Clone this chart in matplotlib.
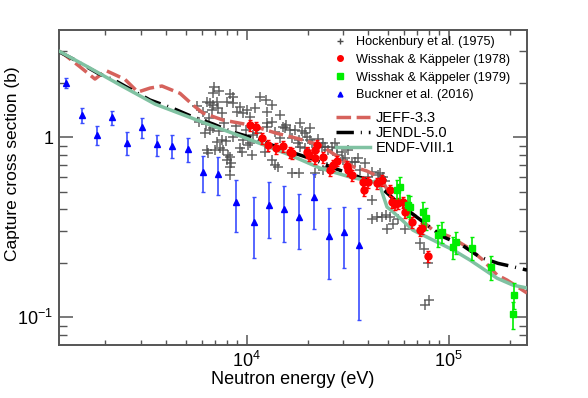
import matplotlib
matplotlib.use("Agg")
import matplotlib.pyplot as plt
from matplotlib.ticker import LogLocator, NullFormatter
from matplotlib.lines import Line2D

plt.rcParams['font.family'] = ['Liberation Sans', 'DejaVu Sans']
plt.rcParams['mathtext.fontset'] = 'custom'
plt.rcParams['mathtext.rm'] = 'Liberation Sans'
plt.rcParams['mathtext.it'] = 'Liberation Sans:italic'
plt.rcParams['xtick.direction'] = 'in'
plt.rcParams['ytick.direction'] = 'in'

# Hockenbury et al. (1975)
hock_E = [6890, 7290, 6810, 6360, 6580, 6810, 7130, 6730, 7210, 7550, 7990, 8270, 8550, 8550,
          8950, 9260, 9590, 10030, 10380, 6220, 6580, 7550, 7130, 7380, 6970, 7630, 8080, 8270,
          7990, 8270, 6360, 6430, 9260, 9590, 10150, 11250, 6510, 6290, 6810, 7900, 8550, 8360,
          10700, 10380, 9900, 5670, 5800, 6080, 7720, 8850, 7290,
          10990, 11640, 12460, 13340, 12610, 14620, 15650, 17350, 18360, 19440, 20580, 12600,
          13340, 12610, 13810, 15480, 14620, 16760, 18150, 18800, 17950, 18360, 19440, 23600,
          25270, 28000, 29640, 29980, 13340, 13810, 14290, 16760, 18150, 21790, 23870, 25000,
          15120, 16380, 19880, 20580, 22500, 23870, 26400, 28000, 30680, 34380, 21060, 24420,
          33210, 36400, 39850, 45720, 47300, 41800, 46800, 44200, 51250, 56100, 41800, 48400,
          49000, 49600, 52900, 60800, 72140, 75500, 79000, 76380, 80000, 44700, 46800, 27370,
          31730, 35570, 38530, 41800, 8270, 10600, 12320, 9460]
hock_xs = [1.90, 1.81, 1.76, 1.57, 1.55, 1.51, 1.57, 1.42, 1.46, 1.37, 1.57, 1.74, 1.67, 1.55,
           1.38, 1.47, 1.37, 1.42, 1.30, 1.06, 1.10, 0.97, 0.94, 0.87, 0.85, 0.85, 0.80, 0.78,
           0.75, 0.68, 0.85, 0.82, 0.87, 0.97, 0.91, 1.06, 1.28, 1.19, 1.13, 0.95, 1.00, 0.72,
           1.03, 0.93, 1.10, 1.49, 1.22, 1.38, 1.20, 1.16, 1.08,
           1.46, 1.67, 1.61, 1.51, 1.38, 1.33, 1.17, 1.10, 1.20, 1.06, 1.13, 1.20,
           1.22, 1.14, 1.07, 1.13, 0.99, 0.99, 0.97, 1.08, 0.93, 0.88, 0.87, 0.88,
           0.85, 0.80, 0.83, 0.75, 0.75, 0.70, 0.68, 0.63, 0.63, 0.63, 0.66, 0.68,
           1.14, 1.10, 1.00, 0.97, 0.98, 0.93, 0.88, 0.87, 0.77, 0.73, 0.93, 0.88,
           0.73, 0.66, 0.60, 0.63, 0.60, 0.45, 0.36, 0.36, 0.36, 0.35, 0.35, 0.57,
           0.37, 0.31, 0.33, 0.31, 0.26, 0.24, 0.20, 0.117, 0.125, 0.62, 0.58, 0.93,
           0.85, 0.77, 0.72, 0.64, 0.62, 0.80, 0.83, 0.83]

# Wisshak & Kaeppeler (1978)
w78_E = [10380, 11120, 11910, 12750, 13960, 15130, 16380, 16760, 19890, 20350, 21790, 22280,
         21790, 23870, 25850, 26740, 27990, 31370, 31730, 33210, 37640, 39850, 38080, 44160,
         46770, 51250, 52420, 54250, 56110, 59400, 60800, 65800, 72140, 73800, 79000]
w78_xs = [1.17, 1.14, 0.991, 0.906, 0.872, 0.895, 0.829, 0.818, 0.829, 0.797, 0.850, 0.906,
          0.767, 0.777, 0.658, 0.702, 0.739, 0.693, 0.658, 0.617, 0.565, 0.565, 0.510, 0.557,
          0.579, 0.510, 0.437, 0.426, 0.432, 0.437, 0.385, 0.338, 0.305, 0.313, 0.219]
w78_err = [0.08, 0.08, 0.07, 0.065, 0.06, 0.065, 0.06, 0.06, 0.06, 0.055, 0.06, 0.065,
           0.055, 0.055, 0.045, 0.05, 0.05, 0.05, 0.045, 0.045, 0.04, 0.04, 0.035, 0.04,
           0.04, 0.035, 0.03, 0.03, 0.03, 0.03, 0.027, 0.024, 0.022, 0.022, 0.016]

# Wisshak & Kaeppeler (1979)
w79_E = [55470, 57430, 62890, 64370, 74620, 77200, 88510, 92650, 105000, 108670, 130430,
         161950, 210500, 208100]
w79_xs = [0.510, 0.530, 0.420, 0.410, 0.385, 0.356, 0.287, 0.298, 0.246, 0.262, 0.243,
          0.190, 0.133, 0.104]
w79_err = [0.07, 0.075, 0.06, 0.06, 0.055, 0.05, 0.04, 0.04, 0.035, 0.037, 0.035,
           0.028, 0.022, 0.018]

# Buckner et al. (2016)
buck_E = [1275, 1525, 1809, 2146, 2545, 3032, 3596, 4282, 5104, 6056, 7185, 8851, 10870,
          12890, 15300, 18150, 21540, 25550, 30320, 35960]
buck_xs = [2.00, 1.33, 1.03, 1.29, 0.933, 1.14, 0.914, 0.898, 0.861, 0.641, 0.629, 0.437,
           0.339, 0.421, 0.400, 0.361, 0.469, 0.283, 0.298, 0.252]
buck_err = [0.13, 0.13, 0.126, 0.118, 0.138, 0.147, 0.123, 0.127, 0.13, 0.142, 0.15, 0.14,
            0.125, 0.145, 0.137, 0.121, 0.16, 0.12, 0.11, 0.155]

# evaluated libraries
jeff_E = [1178, 1260, 1495, 1774, 2011, 2497, 2892, 3321, 3807, 4675, 5422, 6077, 7630,
          10383, 14125, 17750, 23066, 29980, 33590, 39400, 44160, 47300, 53000, 62170,
          74600, 83620, 101500, 123200, 147900, 173400, 194400, 244100]
jeff_xs = [3.01, 2.866, 2.467, 2.108, 2.35, 2.10, 1.785, 1.878, 1.928, 1.756, 1.512, 1.364,
           1.248, 1.170, 1.052, 0.987, 0.906, 0.748, 0.687, 0.650, 0.610, 0.565, 0.448, 0.395,
           0.340, 0.305, 0.2805, 0.246, 0.208, 0.172, 0.161, 0.1365]

jendl_E = [1178, 1413, 1836, 2229, 2800, 3321, 4316, 5361, 6810, 8457, 10745, 13340, 17345,
           21790, 25850, 30675, 37640, 44160, 54240, 60800, 76380, 93700, 116350, 142860,
           175400, 201100, 244100]
jendl_xs = [2.99, 2.688, 2.268, 2.068, 1.792, 1.612, 1.449, 1.305, 1.186, 1.074, 0.991,
            0.906, 0.815, 0.748, 0.687, 0.641, 0.592, 0.550, 0.448, 0.403, 0.333, 0.2805,
            0.252, 0.216, 0.1995, 0.1928, 0.183]

endf_E = [1178, 1639, 2414, 3515, 6215, 9920, 16384, 23066, 32475, 42200, 44670, 49500,
          52400, 66600, 87500, 105000, 127500, 173400, 208000, 244100]
endf_xs = [3.01, 2.458, 1.928, 1.531, 1.20, 0.991, 0.797, 0.675, 0.602, 0.565, 0.579, 0.41,
           0.39, 0.305, 0.262, 0.237, 0.208, 0.165, 0.151, 0.1455]

fig = plt.figure(figsize=(5.88, 3.98), dpi=100)
ax = fig.add_axes([0.1003, 0.1332, 0.7959, 0.7915])

ax.plot(hock_E, hock_xs, '+', color='#4a4a4a', ms=6.5, mew=1.1, alpha=0.85, zorder=2)

l_jeff, = ax.plot(jeff_E, jeff_xs, color='#d6625c', lw=2.5, dashes=(4.2, 1.6), zorder=3)
l_jendl, = ax.plot(jendl_E, jendl_xs, color='black', lw=2.5, dashes=(5.0, 2.0, 0.3, 2.0), zorder=3)
l_endf, = ax.plot(endf_E, endf_xs, color='#80c2a2', lw=2.5, zorder=3)

eb_kw = dict(linestyle='none', capsize=1.5, elinewidth=1.2, capthick=1.0, zorder=4)
ax.errorbar(w78_E, w78_xs, yerr=w78_err, fmt='o', color='red', ms=5, **eb_kw)
ax.errorbar(w79_E, w79_xs, yerr=w79_err, fmt='s', color='#00ee00', ms=5, **eb_kw)
ax.errorbar(buck_E, buck_xs, yerr=buck_err, fmt='^', color='blue', ms=4.5,
            ecolor='#3a4dff', **eb_kw)

ax.set_xscale('log')
ax.set_yscale('log')
ax.set_xlim(1177, 244000)
ax.set_ylim(0.0702, 3.95)

ax.set_xticks([1e4, 1e5], labels=[r'$10^4$', r'$10^5$'])
ax.xaxis.set_minor_locator(LogLocator(base=10, subs=range(2, 10)))
ax.xaxis.set_minor_formatter(NullFormatter())
ax.set_yticks([0.1, 1], labels=[r'$10^{-1}$', '1'])
ax.yaxis.set_minor_locator(LogLocator(base=10, subs=range(2, 10)))
ax.yaxis.set_minor_formatter(NullFormatter())

ax.tick_params(which='both', top=True, right=True, colors='#555555', labelcolor='black',
               labelsize=13)
ax.tick_params(axis='x', which='major', length=7, width=1.1, pad=4)
ax.tick_params(axis='x', which='minor', length=3.5, width=1.0)
ax.tick_params(axis='y', which='major', length=10, width=1.1, pad=4)
ax.tick_params(axis='y', which='minor', length=6, width=1.0)
for s in ax.spines.values():
    s.set_color('#555555')
    s.set_linewidth(1.4)

ax.set_xlabel('Neutron energy (eV)', fontsize=13, labelpad=0)
ax.set_ylabel('Capture cross section (b)', fontsize=12.5)
ax.yaxis.set_label_coords(-0.083, 0.575)

mk = [Line2D([], [], ls='none', marker='+', color='#4a4a4a', ms=5, mew=1.0),
      Line2D([], [], ls='none', marker='o', color='red', ms=4),
      Line2D([], [], ls='none', marker='s', color='#00ee00', ms=4),
      Line2D([], [], ls='none', marker='^', color='blue', ms=3.5)]
leg1 = ax.legend(mk, ['Hockenbury et al. (1975)', 'Wisshak & Käppeler (1978)',
                      'Wisshak & Käppeler (1979)', 'Buckner et al. (2016)'],
                 loc='upper left', bbox_to_anchor=(335 / 588, 1 - 36 / 398),
                 bbox_transform=fig.transFigure, frameon=False, fontsize=9.1,
                 handlelength=0.8, handletextpad=0.9, labelspacing=0.46,
                 borderaxespad=0, borderpad=0)
ax.add_artist(leg1)
ax.legend([l_jeff, l_jendl, l_endf], ['JEFF-3.3', 'JENDL-5.0', 'ENDF-VIII.1'],
          loc='upper left', bbox_to_anchor=(336 / 588, 1 - 111 / 398),
          bbox_transform=fig.transFigure, frameon=False, fontsize=10.5,
          handlelength=2.3, handletextpad=0.4, labelspacing=0.06,
          borderaxespad=0, borderpad=0)

fig.savefig('out.png', dpi=100)
